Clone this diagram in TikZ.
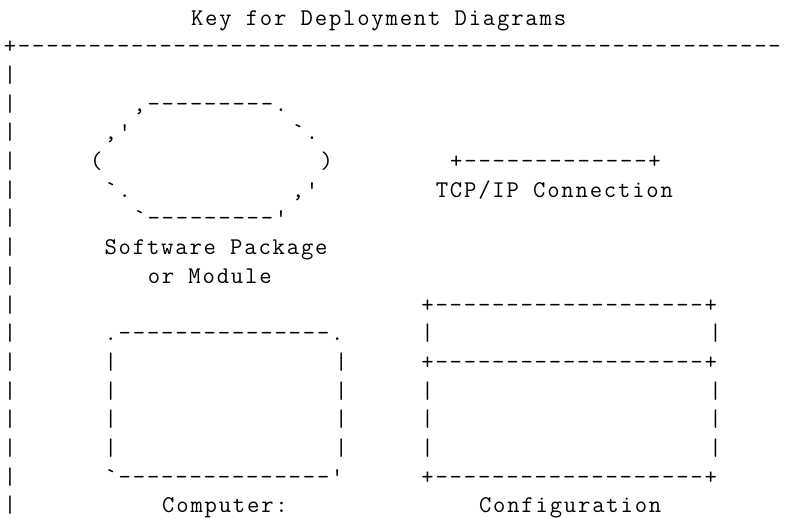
\documentclass[tikz,border=0pt]{standalone}
\usepackage{fontspec}
\newfontfamily\asciifont{Latin Modern Mono}[LetterSpace=7.5]
\tikzstyle{ascii} = [anchor=base west, inner sep=0pt, outer sep=0pt, text=black, font=\asciifont\fontsize{18pt}{21.5pt}\selectfont]
\begin{document}
\begin{tikzpicture}[x=10.8pt, y=-21.525pt]
\useasboundingbox (-0.264,-0.871) rectangle (55.08,17.18);
\node (title) [ascii] at (13,0) {Key for Deployment Diagrams};
\node (border) [ascii] at (0,1) {+------------------------------------------------------};
\foreach \r in {2,...,17}
  \node (bar\r) [ascii] at (0,\r) {|};
% software package
\node (pkgtop) [ascii] at (9,3) {,---------.};
\node (pkgul) [ascii] at (7,4) {,'};
\node (pkgur) [ascii] at (20,4) {`.};
\node (pkgl) [ascii] at (6,5) {(};
\node (pkgr) [ascii] at (22,5) {)};
\node (pkgll) [ascii] at (7,6) {`.};
\node (pkglr) [ascii] at (20,6) {,'};
\node (pkgbot) [ascii] at (9,7) {`---------'};
\node (pkglabel) [ascii] at (7,8) {Software Package};
\node (pkglabelb) [ascii] at (10,9) {or Module};
% tcp/ip
\node (tcpline) [ascii] at (31,5) {+-------------+};
\node (tcplabel) [ascii] at (30,6) {TCP/IP Connection};
% computer
\node (cmptop) [ascii] at (7,11) {.---------------.};
\foreach \r in {12,...,15}
  \node (cmpl\r) [ascii] at (7,\r) {|};
\foreach \r in {12,...,15}
  \node (cmpr\r) [ascii] at (23,\r) {|};
\node (cmpbot) [ascii] at (7,16) {`---------------'};
\node (cmplabel) [ascii] at (11,17) {Computer:};
% configuration
\node (cfgtop) [ascii] at (29,10) {+-------------------+};
\node (cfgmid) [ascii] at (29,12) {+-------------------+};
\node (cfgbot) [ascii] at (29,16) {+-------------------+};
\foreach \r in {11,13,14,15} {
  \node (cfgl\r) [ascii] at (29,\r) {|};
  \node (cfgr\r) [ascii] at (49,\r) {|};
}
\node (cfglabel) [ascii] at (33,17) {Configuration};
\end{tikzpicture}
\end{document}
